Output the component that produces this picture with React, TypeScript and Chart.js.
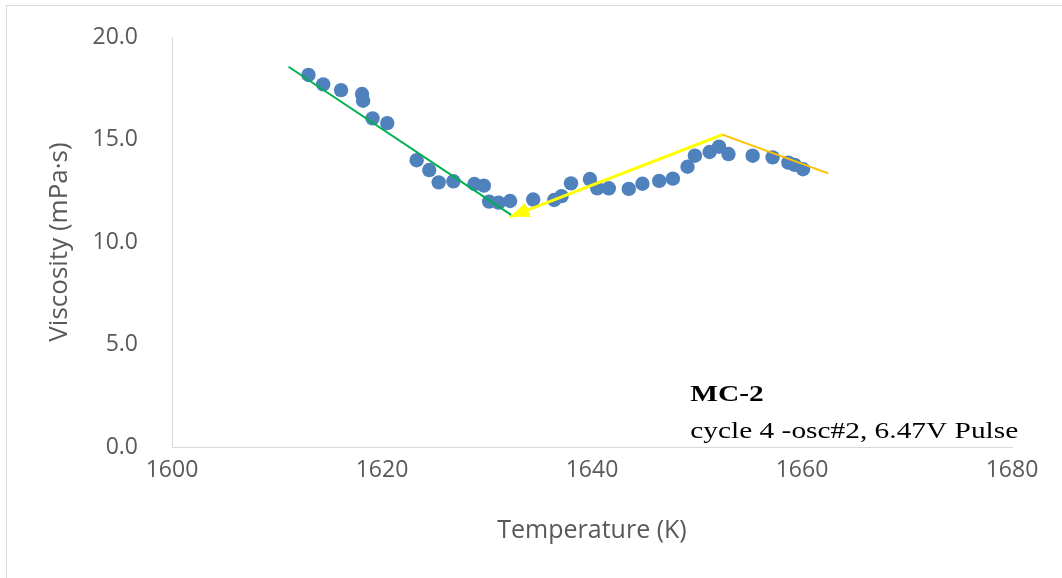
import React, { useEffect, useRef } from "react";
import { Chart, registerables } from "chart.js";

Chart.register(...registerables);

// ---- data ----
const temperatureK = [
  1613.0, 1614.4, 1616.1, 1618.1, 1618.2, 1619.1, 1620.5, 1623.3, 1624.5, 1625.4,
  1626.8, 1628.8, 1629.7, 1630.2, 1631.1, 1632.2, 1634.4, 1636.4, 1637.1, 1638.0,
  1639.8, 1640.5, 1641.6, 1643.5, 1644.8, 1646.4, 1647.7, 1649.1, 1649.8, 1651.2,
  1652.1, 1653.0, 1655.3, 1657.2, 1658.7, 1659.3, 1660.1,
];
const viscosity = [
  18.15, 17.69, 17.41, 17.22, 16.89, 16.03, 15.8, 13.99, 13.51, 12.91,
  12.96, 12.83, 12.75, 11.97, 11.92, 12.0, 12.07, 12.05, 12.24, 12.86,
  13.07, 12.62, 12.62, 12.59, 12.84, 12.98, 13.09, 13.67, 14.21, 14.39,
  14.65, 14.29, 14.21, 14.13, 13.87, 13.76, 13.55,
];

// guide lines: green fit, yellow arrow (start -> tip), orange fit
const coolingFitT = [1611.1, 1632.3];
const coolingFitV = [18.55, 11.32];
const arrowT = [1652.35, 1632.2];
const arrowV = [15.22, 11.23];
const peakFitT = [1652.35, 1662.5];
const peakFitV = [15.25, 13.35];

const xTicks = [1600, 1620, 1640, 1660, 1680];
const yTicks = [0, 5, 10, 15, 20];

const xTitle = "Temperature (K)";
const yTitle = "Viscosity (mPa·s)";
const noteTitle = "MC-2";
const noteText = "cycle 4 -osc#2, 6.47V Pulse";

const toPoints = (xs: number[], ys: number[]) => xs.map((x, i) => ({ x, y: ys[i] }));

const arrowHeadPlugin = {
  id: "arrowHead",
  afterDatasetsDraw(chart: any) {
    const meta = chart.getDatasetMeta(2);
    if (!meta || !meta.data || meta.data.length < 2) return;
    const p0 = meta.data[0];
    const p1 = meta.data[1];
    const ang = Math.atan2(p1.y - p0.y, p1.x - p0.x);
    const len = 19;
    const half = 7.5;
    const ctx = chart.ctx;
    ctx.save();
    ctx.translate(p1.x, p1.y);
    ctx.rotate(ang);
    ctx.beginPath();
    ctx.moveTo(0, 0);
    ctx.lineTo(-len, -half);
    ctx.lineTo(-len, half);
    ctx.closePath();
    ctx.fillStyle = "#FFFF00";
    ctx.fill();
    ctx.restore();
  },
};

const notePlugin = {
  id: "note",
  afterDraw(chart: any) {
    const { ctx, chartArea } = chart;
    const w = chartArea.right - chartArea.left;
    const h = chartArea.bottom - chartArea.top;
    const x = chartArea.left + w * 0.617;
    const y1 = chartArea.top + h * 0.889;
    const y2 = chartArea.top + h * 0.977;
    const sx = 1.25;
    ctx.save();
    ctx.fillStyle = "#000000";
    ctx.textAlign = "left";
    ctx.textBaseline = "alphabetic";
    ctx.translate(x, 0);
    ctx.scale(sx, 1);
    ctx.font = "bold 23.5px 'Liberation Serif'";
    ctx.fillText(noteTitle, 0, y1);
    ctx.font = "23.5px 'Liberation Serif'";
    ctx.fillText(noteText, 0, y2);
    ctx.restore();
  },
};

export default function App() {
  const ref = useRef<HTMLCanvasElement | null>(null);

  useEffect(() => {
    if (!ref.current) return;
    const tickFont = { family: "'Open Sans'", size: 23 };
    const chart = new Chart(ref.current, {
      type: "scatter",
      data: {
        datasets: [
          {
            label: "viscosity",
            data: toPoints(temperatureK, viscosity),
            backgroundColor: "#4F81BD",
            borderColor: "#4F81BD",
            borderWidth: 0,
            pointRadius: 7.2,
            order: 5,
          },
          {
            type: "line",
            label: "cooling",
            data: toPoints(coolingFitT, coolingFitV),
            borderColor: "#00B050",
            borderWidth: 2,
            pointRadius: 0,
            fill: false,
            order: 1,
          },
          {
            type: "line",
            label: "arrow",
            data: toPoints(arrowT, arrowV),
            borderColor: "#FFFF00",
            borderWidth: 3,
            pointRadius: 0,
            fill: false,
            order: 1,
          },
          {
            type: "line",
            label: "peak",
            data: toPoints(peakFitT, peakFitV),
            borderColor: "#FFC000",
            borderWidth: 2,
            pointRadius: 0,
            fill: false,
            order: 1,
          },
        ] as any,
      },
      options: {
        animation: false,
        responsive: false,
        devicePixelRatio: 1,
        layout: { padding: { top: 37, right: 50, bottom: 0, left: 0 } },
        plugins: {
          legend: { display: false },
          tooltip: { enabled: false },
        },
        scales: {
          x: {
            type: "linear",
            min: 1600,
            max: 1680,
            afterBuildTicks: (s: any) => {
              s.ticks = xTicks.map((v) => ({ value: v }));
            },
            afterFit: (s: any) => {
              s.height = 131;
            },
            grid: { display: false, drawTicks: false },
            border: { display: true, color: "#D9D9D9", width: 1 },
            ticks: {
              color: "#595959",
              font: tickFont,
              padding: 10,
              maxRotation: 0,
              callback: (v: any) => String(v),
            },
            title: {
              display: true,
              text: xTitle,
              color: "#595959",
              font: { family: "'Open Sans'", size: 25 },
              padding: { top: 0, bottom: 32 },
            },
          },
          y: {
            type: "linear",
            min: 0,
            max: 20,
            afterBuildTicks: (s: any) => {
              s.ticks = yTicks.map((v) => ({ value: v }));
            },
            afterFit: (s: any) => {
              s.width = 172;
              s.paddingTop = 0;
              s.paddingBottom = 0;
            },
            grid: { display: false, drawTicks: false },
            border: { display: true, color: "#D9D9D9", width: 1 },
            ticks: {
              color: "#595959",
              font: tickFont,
              padding: 34,
              callback: (v: any) => Number(v).toFixed(1),
            },
            title: {
              display: true,
              text: yTitle,
              color: "#595959",
              font: { family: "'Open Sans'", size: 26 },
              padding: { top: 44, bottom: 0 },
            },
          },
        },
      },
      plugins: [arrowHeadPlugin, notePlugin],
    });
    return () => chart.destroy();
  }, []);

  return (
    <div
      style={{
        position: "fixed",
        left: 0,
        top: 0,
        width: 1062,
        height: 578,
        background: "#ffffff",
        overflow: "hidden",
      }}
    >
      <div
        style={{
          position: "absolute",
          left: 6,
          top: 5,
          width: 1056,
          height: 573,
          borderLeft: "1px solid #D9D9D9",
          borderTop: "1px solid #D9D9D9",
          boxSizing: "border-box",
        }}
      />
      <canvas
        ref={ref}
        width={1062}
        height={578}
        style={{ position: "absolute", left: 0, top: 0, width: 1062, height: 578 }}
      />
    </div>
  );
}
